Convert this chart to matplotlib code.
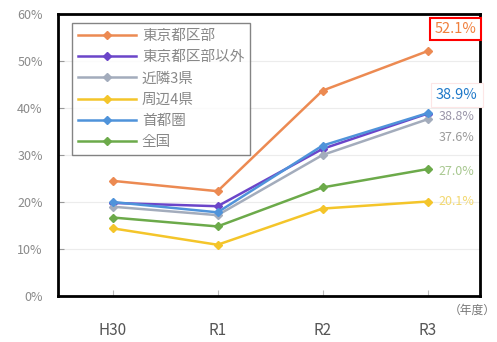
import matplotlib
matplotlib.use("Agg")
import matplotlib.pyplot as plt
from matplotlib.ticker import FuncFormatter

plt.rcParams['font.family'] = ['Noto Sans CJK JP', 'DejaVu Sans']

years = ["H30", "R1", "R2", "R3"]
series_names = ["東京都区部", "東京都区部以外", "近隣3県", "周辺4県", "首都圏", "全国"]
tokyo_ku = [24.5, 22.3, 43.7, 52.1]
tokyo_other = [19.8, 19.1, 31.3, 38.8]
kinrin3 = [19.0, 17.2, 30.0, 37.6]
shuhen4 = [14.4, 10.9, 18.6, 20.1]
shutoken = [20.0, 17.8, 32.0, 38.9]
zenkoku = [16.7, 14.8, 23.1, 27.0]

colors = ["#EC8A52", "#6B45C9", "#A3ACBC", "#F4C52A", "#4F93DA", "#6CAA4A"]
data = [tokyo_ku, tokyo_other, kinrin3, shuhen4, shutoken, zenkoku]

fig = plt.figure(figsize=(4.97, 3.42), dpi=100)
ax = fig.add_axes([58/497, 46/342, 422/497, 282/342])

x = list(range(len(years)))
for name, vals, c in zip(series_names, data, colors):
    ax.plot(x, vals, color=c, lw=1.8, marker='D', ms=4.5, label=name, zorder=3)

ax.set_xlim(-0.52, 3.5)
ax.set_ylim(0, 60)
ax.set_yticks(range(0, 61, 10))
ax.yaxis.set_major_formatter(FuncFormatter(lambda v, p: f"{int(v)}%"))
ax.set_xticks(x)
ax.set_xticklabels(years)
ax.grid(axis='y', color='#ececec', lw=0.8)
ax.set_axisbelow(True)
ax.tick_params(axis='y', direction='in', length=4, color='#999999', labelcolor='#8a8a8a', labelsize=9, pad=11)
ax.tick_params(axis='x', direction='in', length=4, color='#bbbbbb', labelcolor='#555555', labelsize=11, pad=19)
for s in ax.spines.values():
    s.set_linewidth(2)
    s.set_color('black')

leg = ax.legend(loc='upper left', bbox_to_anchor=(0.033, 0.968), borderaxespad=0, fontsize=10.5,
                frameon=True, fancybox=False, edgecolor='#666666', handlelength=4.0,
                labelspacing=0.5, borderpad=0.4, handletextpad=0.4, labelcolor='#888888')
leg.get_frame().set_linewidth(1.0)

# faded end labels
ax.annotate("38.8%", (3, tokyo_other[3]), xytext=(8, -2), textcoords='offset points',
            color='#9a95a8', fontsize=9, va='center', ha='left', annotation_clip=False)
ax.annotate("37.6%", (3, kinrin3[3]), xytext=(8, -13), textcoords='offset points',
            color='#9a9a9a', fontsize=9, va='center', ha='left', annotation_clip=False)
ax.annotate("27.0%", (3, zenkoku[3]), xytext=(8, -2), textcoords='offset points',
            color='#a8c890', fontsize=9, va='center', ha='left', annotation_clip=False)
ax.annotate("20.1%", (3, shuhen4[3]), xytext=(8, 0), textcoords='offset points',
            color='#f2d870', fontsize=9, va='center', ha='left', annotation_clip=False)

# boxed highlight labels
ax.annotate("52.1%", (3, tokyo_ku[3]), xytext=(5, 16), textcoords='offset points',
            color='#F07F3C', fontsize=10.5, va='center', ha='left', annotation_clip=False,
            bbox=dict(boxstyle='square,pad=0.3', fc='white', ec='red', lw=1.5), zorder=5)
ax.annotate("38.9%", (3, shutoken[3]), xytext=(6, 13), textcoords='offset points',
            color='#1F78C8', fontsize=10.5, va='center', ha='left', annotation_clip=False,
            bbox=dict(boxstyle='square,pad=0.35', fc='white', ec='#fde6e6', lw=0.8), zorder=5)

fig.text(472/497, 1 - 310/342, "（年度）", fontsize=8.5, color='#777777', ha='center', va='center')

fig.savefig("out.png", dpi=100)
